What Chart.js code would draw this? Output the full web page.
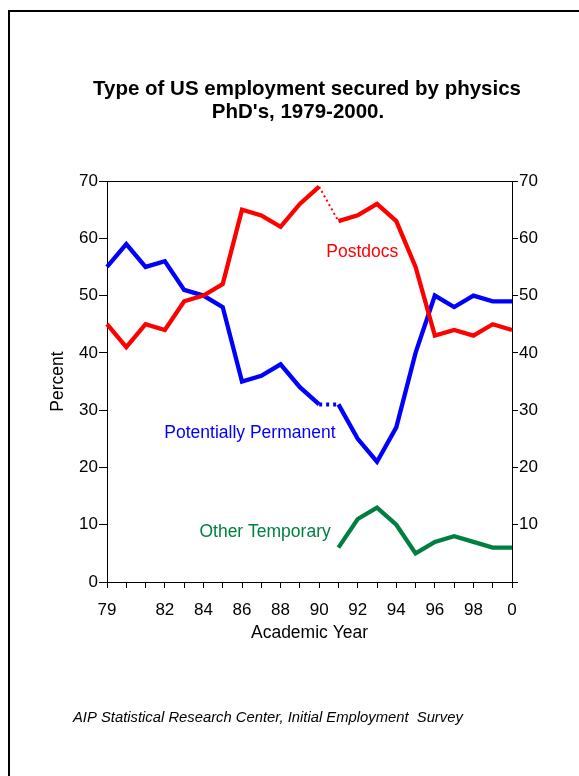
<!DOCTYPE html>
<html>
<head>
<meta charset="utf-8">
<script src="https://cdn.jsdelivr.net/npm/chart.js@4.4.0/dist/chart.umd.min.js"></script>
<style>
  html, body { margin: 0; padding: 0; background: #fff; }
  #chart { display: block; }
</style>
</head>
<body>
<canvas id="chart" width="579" height="776"></canvas>
<script>
// academic years and the share (%) of each employment type
var years = [1979, 1980, 1981, 1982, 1983, 1984, 1985, 1986, 1987, 1988, 1989,
             1990, 1991, 1992, 1993, 1994, 1995, 1996, 1997, 1998, 1999, 2000];
var xTickLabels = ['79', '', '', '82', '', '84', '', '86', '', '88', '',
                   '90', '', '92', '', '94', '', '96', '', '98', '', '0'];
var postdocs = [45, 41, 45, 44, 49, 50, 52, 65, 64, 62, 66,
                69, 63, 64, 66, 63, 55, 43, 44, 43, 45, 44];
var permanent = [55, 59, 55, 56, 51, 50, 48, 35, 36, 38, 34,
                 31, 31, 25, 21, 27, 40, 50, 48, 50, 49, 49];
var otherTemp = [null, null, null, null, null, null, null, null, null, null, null,
                 null, 6, 11, 13, 10, 5, 7, 8, 7, 6, 6];
var yTicks = [0, 10, 20, 30, 40, 50, 60, 70];

var RED = '#ff0000', BLUE = '#0000ff', GREEN = '#008040';
var FONT = "'Liberation Sans', Arial, sans-serif";

// the survey changed in 1990-91, that segment is drawn dotted
var breakIndex = years.indexOf(1990);

// series names written next to the lines (anchored in data units, right aligned)
var seriesLabels = [
  { text: 'Postdocs', year: 1994.1, value: 57.6, color: RED },
  { text: 'Potentially Permanent', year: 1990.85, value: 26, color: BLUE },
  { text: 'Other Temporary', year: 1990.6, value: 8.7, color: GREEN }
];

var textPlugin = {
  id: 'texts',
  afterDraw: function (chart) {
    var ctx = chart.ctx, a = chart.chartArea;
    var xs = chart.scales.x, ys = chart.scales.y;
    ctx.save();

    // page frame
    ctx.strokeStyle = '#000';
    ctx.lineWidth = 2;
    ctx.beginPath();
    ctx.moveTo(9, 776);
    ctx.lineTo(9, 11);
    ctx.lineTo(579, 11);
    ctx.stroke();

    // top edge of plot box
    ctx.lineWidth = 1;
    ctx.beginPath();
    ctx.moveTo(a.left, a.top + 0.5);
    ctx.lineTo(a.right, a.top + 0.5);
    ctx.stroke();

    // title
    ctx.fillStyle = '#000';
    ctx.textBaseline = 'alphabetic';
    ctx.textAlign = 'center';
    ctx.font = 'bold 20.5px ' + FONT;
    ctx.fillText('Type of US employment secured by physics', 307, 95);
    ctx.fillText("PhD's, 1979-2000.", 298, 118);

    // axis titles
    ctx.font = '17.5px ' + FONT;
    ctx.textBaseline = 'middle';
    ctx.fillText('Academic Year', (a.left + a.right) / 2, a.bottom + 51);
    ctx.save();
    ctx.translate(58, (a.top + a.bottom) / 2);
    ctx.rotate(-Math.PI / 2);
    ctx.fillText('Percent', 0, 0);
    ctx.restore();

    // series labels
    ctx.textAlign = 'right';
    seriesLabels.forEach(function (l) {
      ctx.fillStyle = l.color;
      ctx.fillText(l.text, xs.getPixelForValue(l.year - years[0]), ys.getPixelForValue(l.value));
    });

    // source note
    ctx.fillStyle = '#000';
    ctx.textAlign = 'left';
    ctx.font = 'italic 14.8px ' + FONT;
    ctx.fillText('AIP Statistical Research Center, Initial Employment  Survey', 73, 718);
    ctx.restore();
  }
};

function dotted(width, dash) {
  return {
    borderDash: function (c) { return c.p0DataIndex === breakIndex ? dash : undefined; },
    borderWidth: function (c) { return c.p0DataIndex === breakIndex ? width : undefined; }
  };
}

var tickFont = { family: FONT, size: 17 };

var config = {
  type: 'line',
  data: {
    labels: years,
    datasets: [{
      label: 'Postdocs',
      data: postdocs,
      borderColor: RED,
      segment: dotted(2, [2, 3])
    }, {
      label: 'Potentially Permanent',
      data: permanent,
      borderColor: BLUE,
      segment: dotted(4, [3, 4])
    }, {
      label: 'Other Temporary',
      data: otherTemp,
      borderColor: GREEN
    }]
  },
  options: {
    responsive: false,
    animation: false,
    devicePixelRatio: 1,
    layout: { padding: { top: 181, left: 0, right: 0, bottom: 0 } },
    elements: {
      line: { borderWidth: 4.3, tension: 0, borderJoinStyle: 'miter', borderCapStyle: 'butt', fill: false },
      point: { radius: 0, hoverRadius: 0 }
    },
    plugins: {
      legend: { display: false },
      title: { display: false },
      tooltip: { enabled: false }
    },
    scales: {
      x: {
        type: 'category',
        offset: false,
        grid: { display: true, drawOnChartArea: false, drawTicks: true, tickLength: 6, tickColor: '#000', color: '#000' },
        border: { display: true, color: '#000', width: 1 },
        ticks: {
          autoSkip: false, maxRotation: 0, padding: 12, color: '#000', font: tickFont,
          callback: function (v, i) { return xTickLabels[i]; }
        },
        afterFit: function (s) { s.height = 194; }
      },
      y: {
        position: 'left',
        min: 0, max: 70,
        afterBuildTicks: function (s) { s.ticks = yTicks.map(function (v) { return { value: v }; }); },
        grid: { display: true, drawOnChartArea: false, drawTicks: true, tickLength: 8, tickColor: '#000' },
        border: { display: true, color: '#000', width: 1 },
        ticks: { padding: 1, color: '#000', font: tickFont },
        afterFit: function (s) { s.width = 107; }
      },
      y2: {
        position: 'right',
        min: 0, max: 70,
        afterBuildTicks: function (s) { s.ticks = yTicks.map(function (v) { return { value: v }; }); },
        grid: { display: true, drawOnChartArea: false, drawTicks: true, tickLength: 6, tickColor: '#000' },
        border: { display: true, color: '#000', width: 1 },
        ticks: {
          padding: 1, color: '#000', font: tickFont,
          callback: function (v) { return v === 0 ? '' : v; }
        },
        afterFit: function (s) { s.width = 67; }
      }
    }
  },
  plugins: [textPlugin]
};

window.onload = function () {
  var ctx = document.getElementById('chart').getContext('2d');
  window.myChart = new Chart(ctx, config);
};
</script>
</body>
</html>
